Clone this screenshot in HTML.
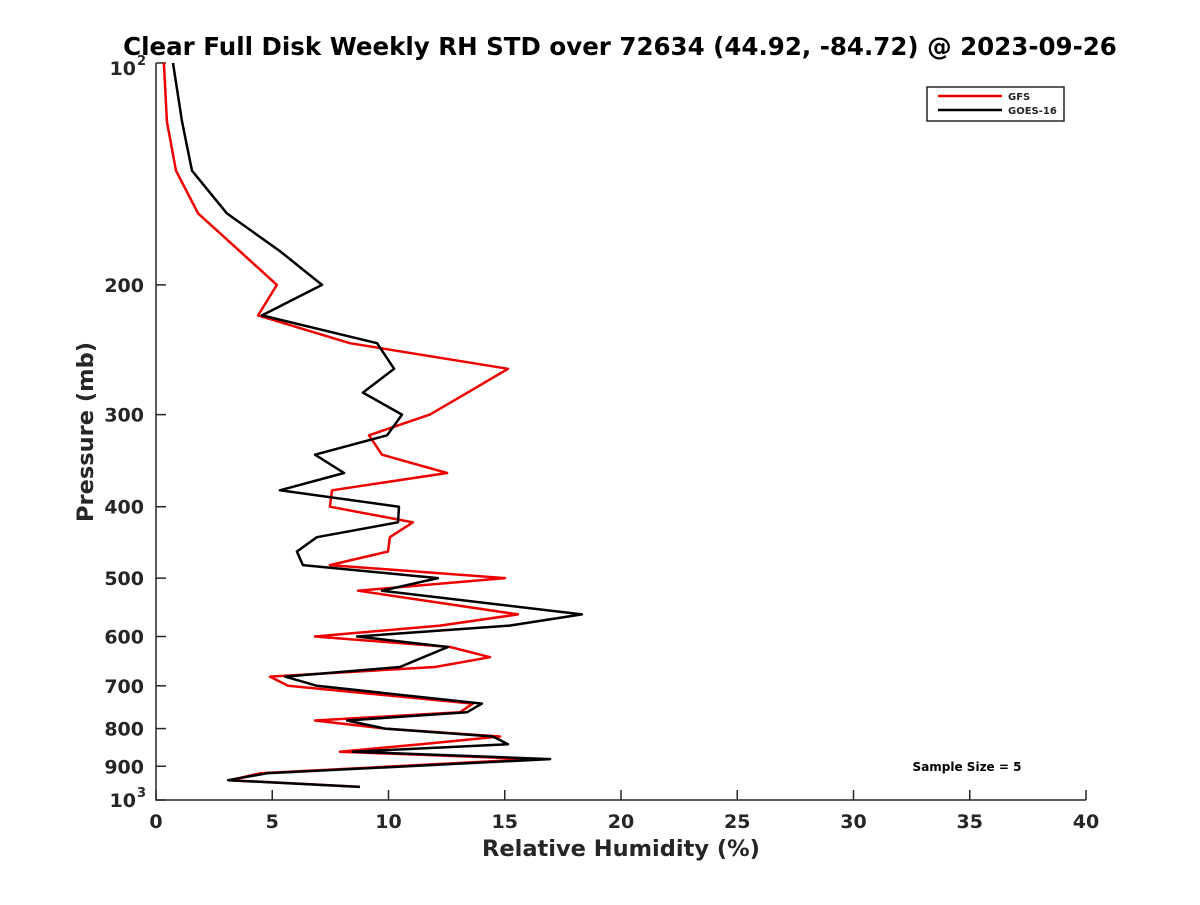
<!DOCTYPE html>
<html><head><meta charset="utf-8"><style>
body{margin:0;background:#fff}
svg text{font-family:"DejaVu Sans","Liberation Sans",sans-serif;font-weight:bold}
</style></head><body>
<svg id="chart" width="1200" height="900" viewBox="0 0 1200 900" xmlns="http://www.w3.org/2000/svg">
<rect width="1200" height="900" fill="#fff"/>
<text x="620" y="55" text-anchor="middle" font-size="24.5" fill="#000">Clear Full Disk Weekly RH STD over 72634 (44.92, -84.72) @ 2023-09-26</text>
<g id="axes"></g>
<g id="series"></g>
<g>
<rect x="927" y="87" width="137" height="34" fill="#fff" stroke="#262626" stroke-width="1.5"/>
<line x1="938" y1="96" x2="1002" y2="96" stroke="#ee0000" stroke-width="2.5"/>
<text x="1008" y="100" font-size="10" fill="#262626">GFS</text>
<line x1="938" y1="110" x2="1002" y2="110" stroke="#000" stroke-width="2.5"/>
<text x="1008" y="114" font-size="10" fill="#262626">GOES-16</text>
</g>
<text x="967" y="771" text-anchor="middle" font-size="12" fill="#000">Sample Size = 5</text>
<text x="621" y="856" text-anchor="middle" font-size="22.5" fill="#262626">Relative Humidity (%)</text>
<text transform="translate(93,432) rotate(-90)" text-anchor="middle" font-size="22.5" fill="#262626">Pressure (mb)</text>
</svg>
<script>
const xTicks=[0,5,10,15,20,25,30,35,40];
const yTicks=[200,300,400,500,600,700,800,900];
const pressures=[100,120,140,160,180,200,220,240,260,280,300,320,340,360,380,400,420,440,460,480,500,520,560,580,600,620,640,660,680,700,740,760,780,800,820,840,860,880,920,940,960];
const goesValues=[0.73,1.12,1.55,3.05,5.33,7.14,4.56,9.51,10.24,8.90,10.58,9.94,6.84,8.09,5.33,10.45,10.41,6.92,6.06,6.32,12.13,9.72,18.32,15.2,8.65,12.56,11.5,10.49,5.55,6.92,14.02,13.38,8.22,9.85,14.49,15.14,8.47,16.95,4.77,3.10,8.77];
const gfsValues=[0.34,0.47,0.86,1.81,3.6,5.20,4.39,8.34,15.14,13.4,11.78,9.16,9.72,12.52,7.57,7.48,11.05,10.06,9.98,7.48,15.01,8.69,15.57,12.22,6.84,12.65,14.37,12.00,4.90,5.68,13.63,13.08,6.84,9.85,14.80,11.4,7.91,16.22,4.47,3.20,8.77];
const X0=156,X1=1086,Y0=63,Y1=800;
const xs=v=>X0+(v-0)/40*(X1-X0);
const ys=p=>Y0+Math.log10(p/100)*(Y1-Y0);
const NS='http://www.w3.org/2000/svg';
const axes=document.getElementById('axes');
function mk(tag,attrs,parent){const e=document.createElementNS(NS,tag);for(const k in attrs)e.setAttribute(k,attrs[k]);parent.appendChild(e);return e;}
const ax=mk('path',{d:`M${X0},${Y0}V${Y1}H${X1}`,fill:'none',stroke:'#262626','stroke-width':1.5},axes);


xTicks.forEach(t=>{
 const l=mk('line',{x1:xs(t),x2:xs(t),y1:Y1,y2:Y1-10,stroke:'#262626','stroke-width':1.5},axes);
 
 
 const tx=mk('text',{x:xs(t),y:Y1+28,'text-anchor':'middle','font-size':19,fill:'#262626'},axes);
 tx.textContent=t;
 
 
});
[100,...yTicks,1000].forEach(p=>{
 const l=mk('line',{x1:X0,x2:X0+10,y1:ys(p),y2:ys(p),stroke:'#262626','stroke-width':1.5},axes);
 
 
});
yTicks.forEach(p=>{
 const tx=mk('text',{x:X0-12,y:ys(p)+7,'text-anchor':'end','font-size':19,fill:'#262626'},axes);
 tx.textContent=p;
 
 
});
[[100,'2'],[1000,'3']].forEach(([p,e])=>{
 const tx=mk('text',{x:X0-20,y:ys(p)+(p===100?12:7),'text-anchor':'end','font-size':19,fill:'#262626'},axes);
 tx.textContent='10';
 
 
 const sp=mk('text',{x:X0-19,y:ys(p)+(p===100?2:-3),'font-size':13,fill:'#262626'},axes);
 sp.textContent=e;
 
 
});
const series=document.getElementById('series');
function line(vals,color,name){
 const d=vals.map((v,i)=>(i?'L':'M')+xs(v).toFixed(1)+','+ys(pressures[i]).toFixed(1)).join('');
 const p=mk('path',{d:d,fill:'none',stroke:color,'stroke-width':2.5,'stroke-linejoin':'round'},series);
 
 
}
line(gfsValues,'#ee0000','gfs-line');
line(goesValues,'#000','goes16-line');
</script>
</body></html>
